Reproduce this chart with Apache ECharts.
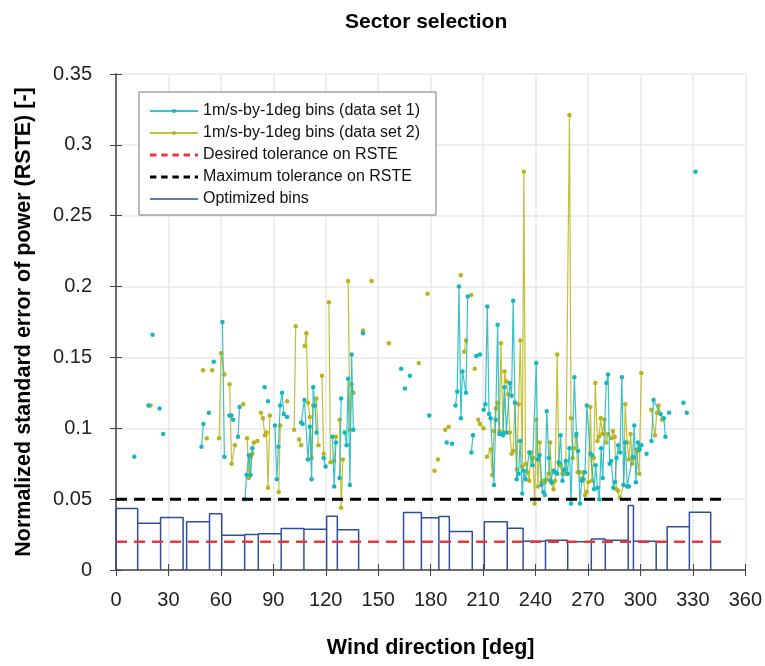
<!DOCTYPE html>
<html>
<head>
    <meta charset="utf-8">
    <title>Sector selection</title>
    <script src="https://cdn.jsdelivr.net/npm/echarts@6/dist/echarts.min.js"></script>
    <style>
        html, body { margin: 0; padding: 0; background: #fff; }
        #chart1 { width: 765px; height: 666px; }
    </style>
</head>
<body>
<div id="chart1"></div>
<script>
    // data set 1: runs of consecutive bins, [wind direction (deg), RSTE]
    var set1Segments = [
        [[10.5, 0.080]],
        [[18.6, 0.116]],
        [[20.9, 0.166]],
        [[24.9, 0.114]],
        [[27.0, 0.096]],
        [[48.9, 0.087], [50.0, 0.103]],
        [[53.1, 0.111]],
        [[55.9, 0.147]],
        [[60.9, 0.175], [62.0, 0.080]],
        [[64.9, 0.109], [66.0, 0.109], [67.0, 0.106]],
        [[69.8, 0.094], [70.7, 0.115]],
        [[73.8, 0.050], [74.7, 0.067], [76.0, 0.081], [77.0, 0.067], [78.0, 0.086]],
        [[85.0, 0.129]],
        [[87.0, 0.119]],
        [[90.9, 0.102], [92.0, 0.064], [92.9, 0.087], [93.9, 0.116], [95.0, 0.125], [96.0, 0.110], [97.9, 0.108]],
        [[105.9, 0.104], [106.8, 0.103], [107.8, 0.120], [109.8, 0.078], [110.9, 0.101], [111.9, 0.064], [112.8, 0.129], [113.8, 0.116], [114.7, 0.097]],
        [[118.8, 0.079], [119.9, 0.073]],
        [[123.8, 0.094], [124.8, 0.059], [125.8, 0.090]],
        [[127.9, 0.065], [128.8, 0.121]],
        [[130.8, 0.097], [131.9, 0.088], [132.8, 0.135], [133.8, 0.060], [134.8, 0.152], [135.8, 0.099]],
        [[141.3, 0.167]],
        [[163.1, 0.142]],
        [[165.3, 0.128]],
        [[168.1, 0.137]],
        [[179.2, 0.109]],
        [[189.2, 0.090]],
        [[192.2, 0.089]],
        [[194.2, 0.116], [195.2, 0.126], [196.2, 0.200], [197.3, 0.107], [198.2, 0.140], [200.2, 0.125], [201.2, 0.193]],
        [[203.3, 0.083], [204.2, 0.095]],
        [[206.1, 0.151], [208.2, 0.152]],
        [[210.3, 0.113], [211.3, 0.117], [212.4, 0.186], [213.4, 0.110], [214.3, 0.107], [216.2, 0.060], [217.2, 0.106],
         [218.3, 0.173], [219.3, 0.096], [220.4, 0.096], [221.4, 0.095], [222.3, 0.129], [223.3, 0.097], [225.3, 0.132],
         [226.3, 0.123], [227.2, 0.190], [228.2, 0.118], [229.2, 0.064], [230.3, 0.068], [231.2, 0.091], [232.4, 0.054],
         [233.3, 0.070], [234.3, 0.064], [236.4, 0.083], [238.3, 0.074], [240.4, 0.146], [241.3, 0.078], [242.3, 0.081],
         [243.4, 0.060], [244.4, 0.055], [245.3, 0.053], [246.4, 0.112], [247.6, 0.079], [248.4, 0.063], [249.3, 0.062],
         [250.3, 0.070], [251.2, 0.069], [252.4, 0.068], [253.3, 0.076], [254.3, 0.095], [255.4, 0.063], [256.3, 0.071],
         [257.3, 0.077], [258.2, 0.068], [259.4, 0.086], [260.3, 0.047], [262.2, 0.136], [263.4, 0.096], [264.4, 0.084],
         [265.4, 0.047], [266.4, 0.063], [267.4, 0.064], [268.3, 0.069], [269.3, 0.116], [271.4, 0.082], [272.3, 0.081],
         [273.5, 0.057], [274.4, 0.074], [275.4, 0.058], [276.5, 0.050], [277.5, 0.086], [278.4, 0.065], [280.5, 0.132],
         [281.5, 0.138], [282.4, 0.075], [283.3, 0.077], [284.5, 0.058], [285.4, 0.062], [286.4, 0.079], [287.3, 0.088],
         [288.3, 0.083], [289.4, 0.136], [290.4, 0.060], [291.3, 0.090], [292.5, 0.059], [293.4, 0.059], [295.5, 0.080],
         [296.5, 0.102], [297.4, 0.062], [298.6, 0.090], [299.5, 0.085], [300.5, 0.088]],
        [[303.5, 0.082]],
        [[306.3, 0.091], [307.5, 0.120], [311.5, 0.110], [313.4, 0.107], [314.3, 0.094]],
        [[316.4, 0.111]],
        [[324.6, 0.118]],
        [[326.5, 0.111]],
        [[331.5, 0.281]]
    ];

    // data set 2
    var set2Segments = [
        [[19.8, 0.116]],
        [[49.8, 0.141]],
        [[51.9, 0.093]],
        [[55.0, 0.141]],
        [[59.0, 0.093], [60.1, 0.153], [62.0, 0.138]],
        [[65.0, 0.131], [66.1, 0.075], [68.0, 0.088]],
        [[72.8, 0.117]],
        [[75.0, 0.093], [76.0, 0.065], [77.0, 0.080], [78.0, 0.082], [78.9, 0.090], [80.9, 0.091]],
        [[82.9, 0.111], [84.0, 0.107], [85.2, 0.095], [86.1, 0.097], [87.0, 0.058], [88.0, 0.109]],
        [[93.1, 0.055], [94.0, 0.102]],
        [[97.9, 0.119]],
        [[101.9, 0.099], [102.8, 0.172]],
        [[104.7, 0.092], [105.9, 0.088]],
        [[107.9, 0.158], [108.9, 0.167], [109.8, 0.118], [110.9, 0.108], [111.9, 0.079], [112.8, 0.116], [114.7, 0.121], [115.8, 0.088]],
        [[117.8, 0.137], [118.8, 0.082]],
        [[121.8, 0.189], [122.7, 0.076], [124.8, 0.077], [125.8, 0.094]],
        [[127.9, 0.106], [128.8, 0.044], [129.8, 0.078]],
        [[132.8, 0.204], [133.8, 0.099], [134.8, 0.131], [135.8, 0.125]],
        [[141.3, 0.169]],
        [[146.2, 0.204]],
        [[156.1, 0.160]],
        [[173.2, 0.146]],
        [[178.2, 0.195]],
        [[182.2, 0.070]],
        [[184.2, 0.078]],
        [[188.3, 0.099], [190.3, 0.101]],
        [[197.2, 0.208]],
        [[199.2, 0.154], [200.2, 0.162]],
        [[203.2, 0.194]],
        [[205.2, 0.142]],
        [[207.2, 0.106], [208.2, 0.103], [210.2, 0.100]],
        [[212.2, 0.080], [214.3, 0.085], [215.2, 0.067], [216.2, 0.098], [217.2, 0.114], [218.3, 0.118], [219.3, 0.098],
         [220.2, 0.160], [221.4, 0.097], [222.3, 0.140], [223.3, 0.133], [224.3, 0.124], [225.3, 0.097], [226.3, 0.082],
         [227.2, 0.084], [228.2, 0.118], [229.3, 0.071], [230.3, 0.117], [231.3, 0.162], [232.4, 0.073], [233.3, 0.281],
         [234.3, 0.075], [235.5, 0.069], [236.4, 0.063], [237.3, 0.083], [238.5, 0.079], [239.5, 0.047], [240.4, 0.106],
         [241.3, 0.059], [242.4, 0.090], [243.4, 0.062], [244.4, 0.063], [245.3, 0.062], [246.4, 0.064], [247.4, 0.068],
         [248.4, 0.090], [249.3, 0.061], [250.3, 0.057], [251.2, 0.063], [252.4, 0.152], [253.3, 0.075], [254.3, 0.074],
         [255.4, 0.068], [256.3, 0.069], [257.3, 0.068], [258.4, 0.068], [259.4, 0.321], [260.3, 0.107], [261.3, 0.079],
         [262.2, 0.086], [263.2, 0.094], [264.1, 0.069], [265.1, 0.069], [266.2, 0.064], [267.2, 0.069], [268.3, 0.053],
         [269.3, 0.055], [270.2, 0.062], [271.4, 0.115], [272.3, 0.063], [273.3, 0.079], [274.2, 0.132], [275.4, 0.091],
         [276.3, 0.094], [277.3, 0.107], [278.2, 0.096], [279.4, 0.106], [280.5, 0.090], [281.5, 0.096], [283.4, 0.093],
         [284.3, 0.098], [285.3, 0.094], [286.2, 0.057], [287.2, 0.056], [288.3, 0.051], [290.3, 0.060], [291.3, 0.117],
         [292.4, 0.090], [293.4, 0.078], [294.4, 0.096], [295.3, 0.075], [296.5, 0.079], [297.5, 0.085], [298.4, 0.084],
         [299.3, 0.068], [300.5, 0.139]],
        [[306.2, 0.113], [308.3, 0.095], [309.4, 0.111], [310.4, 0.116], [312.4, 0.106]]
    ];

    // optimized sector bins
    var binStart = [0, 12.4, 25.5, 40.4, 53.5, 60.5, 73.6, 81.4, 94.5, 107.5, 120.5, 126.6, 164.5, 174.7,
        184.7, 190.7, 210.7, 223.8, 232.9, 245.7, 258.4, 271.9, 279.9, 293.0, 296.0, 315.3, 328.0];
    var binEnd = [12.4, 25.5, 38.4, 53.5, 60.5, 73.6, 81.4, 94.5, 107.5, 120.5, 126.6, 138.8, 174.7, 184.7,
        190.7, 203.8, 223.8, 232.9, 245.7, 258.4, 271.9, 279.9, 293.0, 296.0, 309.0, 328.0, 340.2];
    var binRste = [0.0434, 0.033, 0.037, 0.034, 0.0397, 0.0246, 0.025, 0.0256, 0.0293, 0.0288, 0.038, 0.0284,
        0.0406, 0.0369, 0.0378, 0.0272, 0.034, 0.0295, 0.0203, 0.021, 0.0199, 0.0218, 0.021, 0.0456, 0.0203,
        0.0305, 0.0408];

    var desiredTol = 0.02;
    var maxTol = 0.05;
    var tolRange = [0, 348];

    // join runs, '-' breaks the line between them
    function joinSegments(segs) {
        var out = [];
        segs.forEach(function (s, i) {
            if (i > 0) out.push([s[0][0], '-']);
            s.forEach(function (p) { out.push(p); });
        });
        return out;
    }

    function binOutline() {
        var out = [];
        for (var i = 0; i < binStart.length; i++) {
            if (i > 0) out.push([binStart[i], '-']);
            out.push([binStart[i], 0], [binStart[i], binRste[i]], [binEnd[i], binRste[i]], [binEnd[i], 0]);
        }
        return out;
    }

    var base = 'Liberation Sans';
    var cyan = '#16b6bf';
    var olive = '#b9b41b';
    var red = '#e8383a';
    var navy = '#2d4d9e';

    // legend icons for the dashed lines and the bin outline
    var dashIcon = 'path://M0,0H6V2.6H0Z M10.5,0H16.5V2.6H10.5Z M21,0H27V2.6H21Z M31.5,0H37.5V2.6H31.5Z M42,0H45V2.6H42Z';
    var thinIcon = 'path://M0,0H48V1.3H0Z';

    var tickStyle = { show: true, inside: true, length: 6, lineStyle: { color: '#444', width: 1 } };
    var lineStyleAxis = { show: true, lineStyle: { color: '#666', width: 1.5 } };

    var myChart1 = echarts.init(document.getElementById('chart1'));
    myChart1.setOption({
        animation: false,
        backgroundColor: '#fff',
        title: {
            text: 'Sector selection',
            left: 340,
            top: 7,
            textStyle: { fontFamily: base, fontWeight: 'bold', fontSize: 21, color: '#000' }
        },
        legend: {
            orient: 'vertical',
            left: 139,
            top: 92,
            itemWidth: 48,
            itemHeight: 5,
            itemGap: 6,
            padding: [11, 16, 8, 10],
            borderColor: '#777',
            borderWidth: 1,
            backgroundColor: '#fff',
            textStyle: { fontFamily: base, fontSize: 16, lineHeight: 16, color: '#111' },
            data: [
                { name: '1m/s-by-1deg bins (data set 1)' },
                { name: '1m/s-by-1deg bins (data set 2)' },
                { name: 'Desired tolerance on RSTE', icon: dashIcon },
                { name: 'Maximum tolerance on RSTE', icon: dashIcon },
                { name: 'Optimized bins', icon: thinIcon }
            ]
        },
        grid: { left: 116, right: 18, top: 74, bottom: 96 },
        xAxis: [{
            type: 'value', min: 0, max: 360, interval: 30,
            name: 'Wind direction [deg]', nameLocation: 'middle', nameGap: 67,
            nameTextStyle: { fontFamily: base, fontWeight: 'bold', fontSize: 21.5, color: '#000' },
            axisLine: lineStyleAxis, axisTick: tickStyle,
            axisLabel: { margin: 20, fontFamily: base, fontSize: 20, color: '#222' },
            splitLine: { show: true, lineStyle: { color: '#e8e8e8', width: 1.5 } }
        }, {
            type: 'value', min: 0, max: 360, interval: 30, position: 'top',
            axisLine: lineStyleAxis, axisTick: tickStyle, axisLabel: { show: false }, splitLine: { show: false }
        }],
        yAxis: [{
            type: 'value', min: 0, max: 0.35, interval: 0.05,
            name: 'Normalized standard error of power (RSTE) [-]', nameLocation: 'middle', nameGap: 81,
            nameTextStyle: { fontFamily: base, fontWeight: 'bold', fontSize: 21.5, color: '#000' },
            axisLine: lineStyleAxis, axisTick: tickStyle,
            axisLabel: { margin: 24, fontFamily: base, fontSize: 20, color: '#222' },
            splitLine: { show: true, lineStyle: { color: '#e8e8e8', width: 1.5 } }
        }, {
            type: 'value', min: 0, max: 0.35, interval: 0.05, position: 'right',
            axisLine: lineStyleAxis, axisTick: tickStyle, axisLabel: { show: false }, splitLine: { show: false }
        }],
        series: [
            {
                name: '1m/s-by-1deg bins (data set 1)',
                type: 'line',
                data: joinSegments(set1Segments),
                connectNulls: false,
                symbol: 'circle',
                symbolSize: 4.5,
                itemStyle: { color: cyan },
                lineStyle: { color: cyan, width: 1.2, opacity: 0.85 },
                z: 3
            },
            {
                name: '1m/s-by-1deg bins (data set 2)',
                type: 'line',
                data: joinSegments(set2Segments),
                connectNulls: false,
                symbol: 'circle',
                symbolSize: 4.5,
                itemStyle: { color: olive },
                lineStyle: { color: olive, width: 1.2, opacity: 0.85 },
                z: 2
            },
            {
                name: 'Desired tolerance on RSTE',
                type: 'line',
                data: [[tolRange[0], desiredTol], [tolRange[1], desiredTol]],
                symbol: 'none',
                itemStyle: { color: red },
                lineStyle: { color: red, width: 2.5, type: [11, 7] },
                z: 4
            },
            {
                name: 'Maximum tolerance on RSTE',
                type: 'line',
                data: [[tolRange[0], maxTol], [tolRange[1], maxTol]],
                symbol: 'none',
                itemStyle: { color: '#000' },
                lineStyle: { color: '#000', width: 3, type: [11, 7] },
                z: 4
            },
            {
                name: 'Optimized bins',
                type: 'line',
                data: binOutline(),
                connectNulls: false,
                symbol: 'none',
                itemStyle: { color: navy },
                lineStyle: { color: navy, width: 1.5 },
                z: 1
            }
        ]
    });
</script>
</body>
</html>
